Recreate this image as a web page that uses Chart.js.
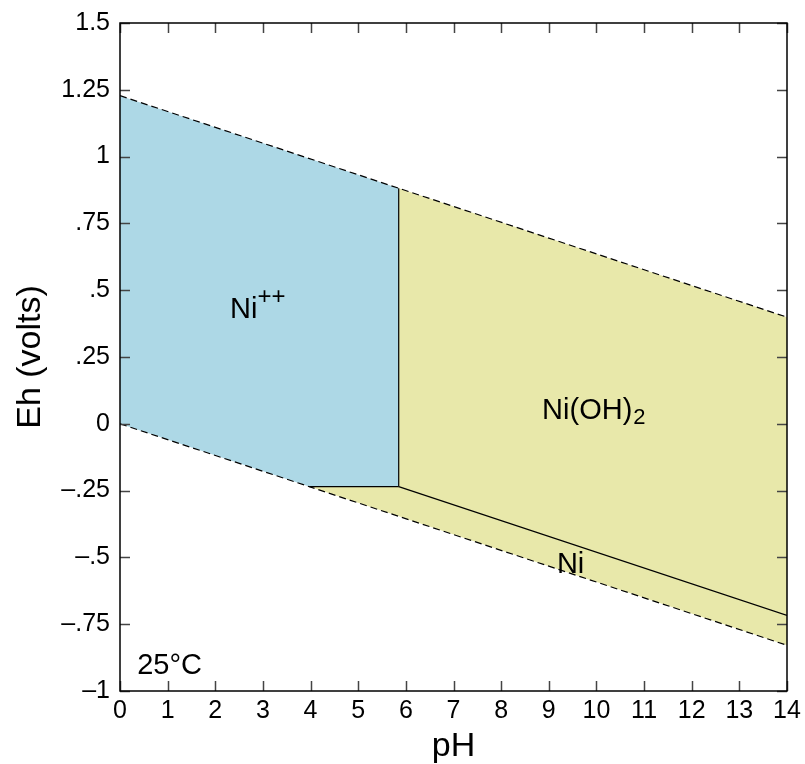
<!DOCTYPE html>
<html>
<head>
<meta charset="utf-8">
<script src="https://cdn.jsdelivr.net/npm/chart.js@4.4.1/dist/chart.umd.min.js"></script>
<style>
html,body{margin:0;padding:0;background:#fff;}
#wrap{width:805px;height:764px;}
</style>
</head>
<body>
<div id="wrap"><canvas id="c" width="805" height="764"></canvas></div>
<script>
// ---- data ----
const waterUpperX = [0, 14];
const waterUpperY = [1.228, 0.399];
const waterLowerX = [0, 14];
const waterLowerY = [0, -0.829];
const niIonOxideX = [5.85, 5.85];
const niIonOxideY = [0.882, -0.235];
const niIonMetalX = [3.97, 5.85];
const niIonMetalY = [-0.235, -0.235];
const oxideMetalX = [5.85, 14];
const oxideMetalY = [-0.235, -0.717];
const niIonRegionX = [0, 5.85, 5.85, 3.97, 0];
const niIonRegionY = [1.228, 0.882, -0.235, -0.235, 0];
const oxideRegionX = [5.85, 14, 14, 3.97, 5.85];
const oxideRegionY = [0.882, 0.399, -0.829, -0.235, -0.235];
const yTickValues = [1.5, 1.25, 1, 0.75, 0.5, 0.25, 0, -0.25, -0.5, -0.75, -1];
const yTickLabels = ['1.5', '1.25', '1', '.75', '.5', '.25', '0', '\u2013.25', '\u2013.5', '\u2013.75', '\u20131'];
const xTickLabels = ['0','1','2','3','4','5','6','7','8','9','10','11','12','13','14'];
const labelMain = ['Ni', 'Ni(OH)', 'Ni', '25\u00B0C'];
const labelSup  = ['++', '', '', ''];
const labelSub  = ['', '2', '', ''];
const labelX = [2.31, 8.86, 9.17, 0.36];
const labelY = [0.396, 0.018, -0.558, -0.936];

const pts = (xs, ys) => xs.map((x, i) => ({x: x, y: ys[i]}));
const FONT = '"Liberation Sans", Arial, Helvetica, sans-serif';

const lineDs = (xs, ys, dash) => ({
  data: pts(xs, ys), showLine: true, borderColor: '#000', borderWidth: 1.2,
  borderDash: dash, pointRadius: 0, fill: false, tension: 0
});
const regionDs = (xs, ys, color) => ({
  data: pts(xs, ys), showLine: true, borderWidth: 0, borderColor: 'rgba(0,0,0,0)',
  backgroundColor: color, pointRadius: 0, fill: 'shape', tension: 0
});

const framePlugin = {
  id: 'frame',
  afterDatasetsDraw(chart) {
    const {ctx, chartArea: a, scales} = chart;
    ctx.save();
    // text labels
    ctx.fillStyle = '#000';
    ctx.textAlign = 'left';
    ctx.textBaseline = 'alphabetic';
    for (let i = 0; i < labelMain.length; i++) {
      const px = scales.x.getPixelForValue(labelX[i]);
      const py = scales.y.getPixelForValue(labelY[i]);
      ctx.font = '29px ' + FONT;
      ctx.fillText(labelMain[i], px, py);
      const w = ctx.measureText(labelMain[i]).width;
      if (labelSup[i]) { ctx.font = '24px ' + FONT; ctx.fillText(labelSup[i], px + w, py - 14); }
      if (labelSub[i]) { ctx.font = '22px ' + FONT; ctx.fillText(labelSub[i], px + w + 1, py + 5); }
    }
    // ticks (inward, all four sides)
    ctx.strokeStyle = '#444';
    ctx.lineWidth = 1.5;
    const tl = 10;
    ctx.beginPath();
    for (let v = 0; v <= 14; v++) {
      const px = Math.round(scales.x.getPixelForValue(v)) + 0.5;
      ctx.moveTo(px, a.bottom); ctx.lineTo(px, a.bottom - tl);
      ctx.moveTo(px, a.top); ctx.lineTo(px, a.top + tl);
    }
    yTickValues.forEach(v => {
      const py = Math.round(scales.y.getPixelForValue(v)) + 0.5;
      ctx.moveTo(a.left, py); ctx.lineTo(a.left + tl, py);
      ctx.moveTo(a.right, py); ctx.lineTo(a.right - tl, py);
    });
    ctx.stroke();
    // frame
    ctx.strokeStyle = '#000';
    ctx.lineWidth = 1.5;
    ctx.strokeRect(a.left, a.top, a.right - a.left, a.bottom - a.top);
    ctx.restore();
  }
};

new Chart(document.getElementById('c'), {
  type: 'scatter',
  data: {
    datasets: [
      lineDs(waterUpperX, waterUpperY, [7, 4]),
      lineDs(waterLowerX, waterLowerY, [7, 4]),
      lineDs(niIonOxideX, niIonOxideY, []),
      lineDs(niIonMetalX, niIonMetalY, []),
      lineDs(oxideMetalX, oxideMetalY, []),
      regionDs(niIonRegionX, niIonRegionY, 'rgb(173,216,230)'),
      regionDs(oxideRegionX, oxideRegionY, 'rgb(232,232,170)')
    ]
  },
  options: {
    responsive: false,
    animation: false,
    events: [],
    layout: {padding: {left: 0, top: 23, right: 18, bottom: 0}},
    plugins: {legend: {display: false}, tooltip: {enabled: false}},
    scales: {
      x: {
        type: 'linear', min: 0, max: 14,
        grid: {display: false}, border: {display: false},
        ticks: {
          stepSize: 1, padding: -3, color: '#000', font: {family: FONT, size: 25},
          callback: (v) => xTickLabels[v] !== undefined ? xTickLabels[v] : ''
        },
        title: {display: true, text: 'pH', color: '#000', font: {family: FONT, size: 34}, padding: {top: 0, bottom: -3}},
        afterFit: (s) => { s.height = 73; }
      },
      y: {
        type: 'linear', min: -1, max: 1.5,
        grid: {display: false}, border: {display: false},
        ticks: {
          stepSize: 0.25, padding: 2, color: '#000', font: {family: FONT, size: 25},
          callback: (v) => { const i = yTickValues.findIndex(t => Math.abs(t - v) < 1e-6); return i >= 0 ? yTickLabels[i] : ''; }
        },
        title: {display: true, text: 'Eh (volts)', color: '#000', font: {family: FONT, size: 34}, padding: {top: 10, bottom: 0}},
        afterFit: (s) => { s.width = 120; }
      }
    }
  },
  plugins: [framePlugin]
});
</script>
</body>
</html>
